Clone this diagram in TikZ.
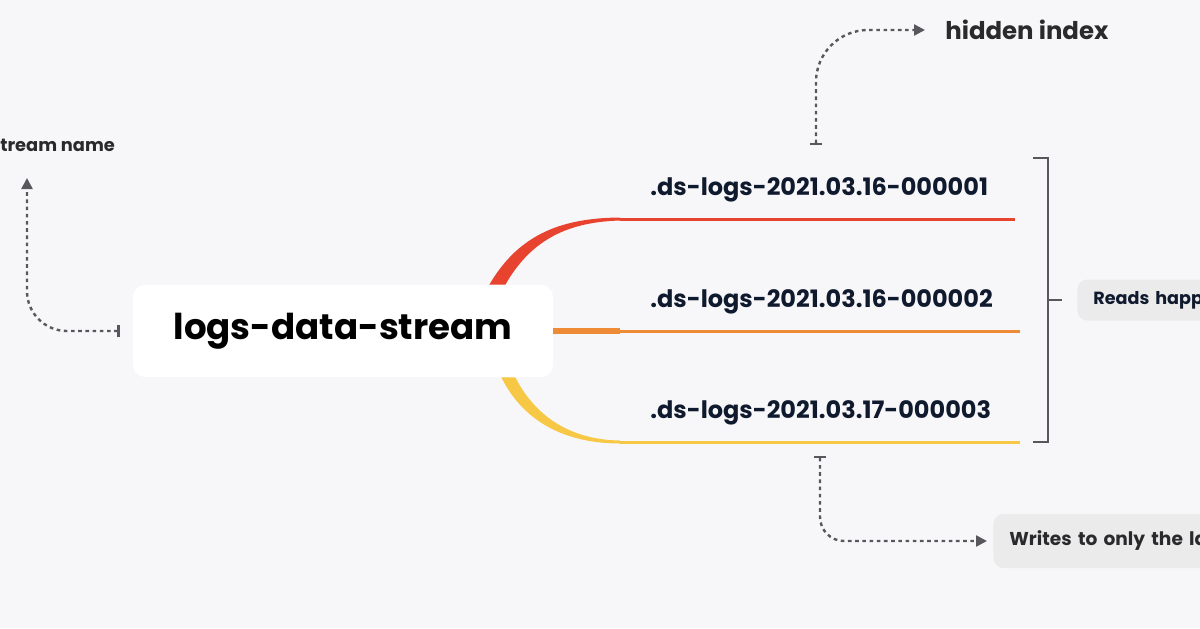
\documentclass[tikz,border=0pt]{standalone}
\usepackage{fontspec}
\setmainfont{Poppins}
\usetikzlibrary{arrows.meta,positioning}
\definecolor{paper}{HTML}{F7F7F9}
\definecolor{ink}{HTML}{101A2E}
\definecolor{note}{HTML}{2A2A2C}
\definecolor{wire}{HTML}{58585C}
\definecolor{chip}{HTML}{EBEBEC}
\definecolor{redline}{HTML}{E8432E}
\definecolor{orangeline}{HTML}{EE8B36}
\definecolor{yellowline}{HTML}{F6C846}

\begin{document}
\begin{tikzpicture}[x=0.5pt,y=-0.5pt,
  hint/.style={wire,line width=1.2pt,dash pattern=on 1.8pt off 1.8pt,
    {Bar[width=6pt,line width=1.2pt]}-{Triangle[length=5.5pt,width=5.5pt]}},
  idx/.style={ink,anchor=west,inner sep=0pt,font=\fontsize{12}{14}\selectfont\bfseries},
  chipbox/.style={fill=chip,rounded corners=5pt,anchor=west,inner xsep=8pt,
    text width=120pt,align=left},
  label/.style={note,inner sep=0pt,anchor=west}]
 \clip (0,0) rectangle (1200,628);
 \fill[paper] (0,0) rectangle (1200,628);

 \node[fill=white,rounded corners=6pt,minimum width=210pt,minimum height=46pt,
       font=\fontsize{17.8}{21}\selectfont\bfseries] (stream) at (343,331) {\raisebox{-1.5pt}{logs-data-stream}};

 \coordinate (rend) at (1015,219);
 \coordinate (oend) at (1020,331);
 \coordinate (yend) at (1020,442);
 \fill[redline] ([xshift=-32pt]stream.north east) .. controls (520,232) and (565,218) .. (620,217.5)
   -- (620,220.5) .. controls (570,222) and (532,238) .. ([xshift=-24pt]stream.north east) -- cycle;
 \draw[redline,line width=1.5pt] (620,219) -- (rend);
 \draw[orangeline,line width=2.6pt] (stream.east) -- (620,331);
 \draw[orangeline,line width=1.5pt] (620,331) -- (oend);
 \fill[yellowline] ([xshift=-26pt]stream.south east) .. controls (525,425) and (570,443.5) .. (620,443.5)
   -- (620,440.5) .. controls (575,440) and (537,420) .. ([xshift=-19pt]stream.south east) -- cycle;
 \draw[yellowline,line width=1.5pt] (620,442) -- (yend);

 \node[idx] (idx1) at (650,190) {.ds-logs-2021.03.16-000001};
 \node[idx] (idx2) at (650,302) {.ds-logs-2021.03.16-000002};
 \node[idx] (idx3) at (650,413) {.ds-logs-2021.03.17-000003};

 \draw[wire,line width=1.3pt] (1033,158) -- (1048,158) -- (1048,442) -- (1033,442);
 \coordinate (brace) at (1048,300);
 \node[chipbox,text=ink,minimum height=20.5pt,font=\fontsize{8.8}{11}\selectfont\bfseries]
   (reads) at (1077,300) {Reads happ};
 \draw[wire,line width=1.3pt] (brace) -- ([xshift=-7.5pt]reads.west);

 \node[label,font=\fontsize{12.2}{14}\selectfont\bfseries] (hidden) at (945,30) {hidden index};
 \coordinate (hfoot) at (816,145);
 \draw[hint,rounded corners=26pt] (hfoot) |- ([xshift=-10pt]hidden.west);

 \node[chipbox,text=note,minimum height=27pt,font=\fontsize{9.3}{11}\selectfont\bfseries]
   (writes) at (993,541) {Writes to only the la};
 \coordinate (wfoot) at (820,456);
 \draw[hint,rounded corners=12pt] (wfoot) |- ([xshift=-3pt]writes.west);

 \node[label,font=\fontsize{8.9}{11}\selectfont\bfseries] (name) at (0,145) {tream name};
 \coordinate (nfoot) at (27,178);
 \draw[hint,rounded corners=20pt] ([xshift=-6.5pt]stream.west) -| (nfoot);
\end{tikzpicture}
\end{document}
